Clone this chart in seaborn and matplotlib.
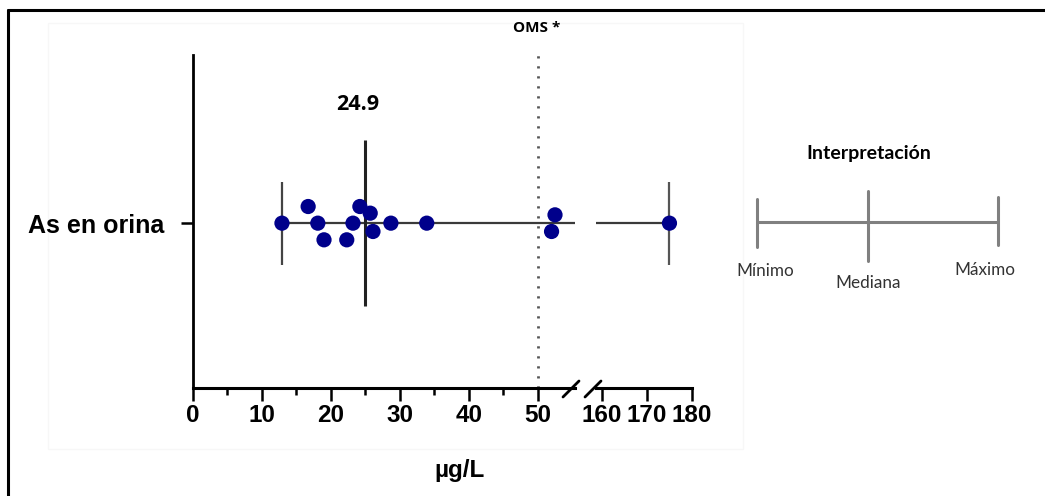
import numpy as np
import pandas as pd
import matplotlib
matplotlib.use("Agg")
import matplotlib.pyplot as plt
from matplotlib.lines import Line2D
from matplotlib.patches import Rectangle
import seaborn as sns

# ---------------- data ----------------
category = "As en orina"
values = [12.9, 16.7, 18.1, 19.0, 22.3, 23.2, 24.2, 25.7, 26.1, 28.7, 33.9, 52.0, 52.5, 175.0]
offsets = [0.0, 0.10, 0.0, -0.10, -0.10, 0.0, 0.10, 0.06, -0.05, 0.0, 0.0, -0.05, 0.05, 0.0]
median_value = 24.9
who_limit = 50
who_label = "OMS *"
x_ticks_left = [0, 10, 20, 30, 40, 50]
x_minor_left = [5, 15, 25, 35, 45]
x_ticks_right = [160, 170, 180]
x_label = "µg/L"
legend_title = "Interpretación"
legend_labels = ["Mínimo", "Mediana", "Máximo"]

# ---------------- style ----------------
W, H = 1045, 496
sns.set_theme(style="white")
plt.rcParams['font.family'] = ['Liberation Sans', 'DejaVu Sans']
plt.rcParams['axes.edgecolor'] = 'black'
plt.rcParams['xtick.color'] = 'black'
plt.rcParams['ytick.color'] = 'black'
plt.rcParams['text.color'] = 'black'

fig = plt.figure(figsize=(W / 100, H / 100), dpi=100)
fig.patch.set_facecolor('white')


def fx(px):
    return px / W


def fy(py):
    return 1 - py / H


# canvas for decorations in pixel coordinates
canvas = fig.add_axes([0, 0, 1, 1], zorder=0)
canvas.set_xlim(0, W)
canvas.set_ylim(H, 0)
canvas.axis('off')

ax1 = fig.add_axes([fx(193), fy(388), fx(575) - fx(193), fy(55) - fy(388)], zorder=2)
ax2 = fig.add_axes([fx(596), fy(388), fx(692) - fx(596), fy(55) - fy(388)], zorder=2)
for ax in (ax1, ax2):
    ax.patch.set_alpha(0)
    ax.set_ylim(-0.99, 1.01)
ax1.set_xlim(0, 55.4)
ax2.set_xlim(158.7, 180)

df = pd.DataFrame({"value": values, "offset": offsets})
left = df[df["value"] <= ax1.get_xlim()[1]]
right = df[df["value"] >= ax2.get_xlim()[0]]

vmin, vmax = min(values), max(values)
line_col = "#3a3a3a"

# range line (broken)
ax1.hlines(0, vmin, ax1.get_xlim()[1], color=line_col, lw=1.6, zorder=3)
ax2.hlines(0, ax2.get_xlim()[0], vmax, color=line_col, lw=1.6, zorder=3)
# min / median / max markers
ax1.vlines(vmin, -0.25, 0.25, color="#444444", lw=1.6, zorder=3)
ax1.vlines(median_value, -0.5, 0.5, color="#222222", lw=2.2, zorder=3)
ax2.vlines(vmax, -0.25, 0.25, color="#555555", lw=1.6, zorder=3)
# WHO limit
ax1.axvline(who_limit, color="#555555", lw=2, ls=(0, (0.8, 2.8)), zorder=2)

sns.scatterplot(data=left, x="value", y="offset", ax=ax1, s=120,
                color="#00008B", edgecolor="none", zorder=5, legend=False)
sns.scatterplot(data=right, x="value", y="offset", ax=ax2, s=120,
                color="#00008B", edgecolor="none", zorder=5, legend=False)

# median label
ax1.annotate(f"{median_value}", xy=(median_value, 0.71), xytext=(-5, 0),
             textcoords="offset points", ha="center", va="center",
             fontsize=15.5, fontweight="bold", family=["Open Sans", "DejaVu Sans"])
# WHO label
ax1.annotate(who_label, xy=(who_limit, 1), xycoords=("data", "axes fraction"),
             xytext=(-1, 19.5), textcoords="offset points", ha="center", va="center",
             fontsize=11, fontweight="bold", family=["Open Sans", "DejaVu Sans"])

# axes, spines, ticks
for ax in (ax1, ax2):
    ax.set_xlabel("")
    ax.set_ylabel("")
    for s in ("top", "right"):
        ax.spines[s].set_visible(False)
    ax.spines["bottom"].set_linewidth(2.2)
    ax.spines["bottom"].set_color("black")
ax1.spines["left"].set_linewidth(2.0)
ax2.spines["left"].set_visible(False)

ax1.set_xticks(x_ticks_left, labels=[str(t) for t in x_ticks_left],
               fontsize=17.5, fontweight="bold")
ax1.set_xticks(x_minor_left, minor=True)
ax2.set_xticks(x_ticks_right, labels=[str(t) for t in x_ticks_right],
               fontsize=17.5, fontweight="bold")
for ax in (ax1, ax2):
    ax.tick_params(axis="x", which="major", bottom=True, direction="out",
                   length=9, width=1.8, pad=2.5)
    ax.tick_params(axis="x", which="minor", bottom=True, direction="out",
                   length=5, width=1.8)
ax1.set_yticks([0], labels=[category], fontsize=18, fontweight="bold")
ax1.tick_params(axis="y", left=True, direction="out", length=9, width=1.8, pad=12)
ax2.set_yticks([])

# axis label
canvas.text(459, 470, x_label, ha="center", va="center", fontsize=17.5, fontweight="bold")

# axis break slashes
for cx in (571, 593):
    canvas.add_line(Line2D([cx - 8, cx + 8], [397, 381], color="black", lw=2.0))

# frame / background
canvas.add_patch(Rectangle((48, 23), 695, 426, fill=False, edgecolor="#f7f7f7", lw=1))
canvas.add_line(Line2D([8, 8], [10, H], color="black", lw=2.2))
canvas.add_line(Line2D([8, W], [10, 10], color="black", lw=2.2))

# interpretation legend
g = "#808080"
lato = ["Lato", "DejaVu Sans"]
canvas.text(869, 154, legend_title, ha="center", va="center", fontsize=14,
            fontweight="bold", family=lato)
canvas.add_line(Line2D([757, 998], [222, 222], color=g, lw=2.2))
canvas.add_line(Line2D([757, 757], [199, 247], color=g, lw=2.2))
canvas.add_line(Line2D([868, 868], [191, 261], color=g, lw=2.2))
canvas.add_line(Line2D([998, 998], [197, 245], color=g, lw=2.2))
for (x, y), lab in zip([(765, 271), (868, 283), (985, 270)], legend_labels):
    canvas.text(x, y, lab, ha="center", va="center", fontsize=12.3,
                color="#333333", family=lato)

fig.savefig("out.png", dpi=100, facecolor="white")
